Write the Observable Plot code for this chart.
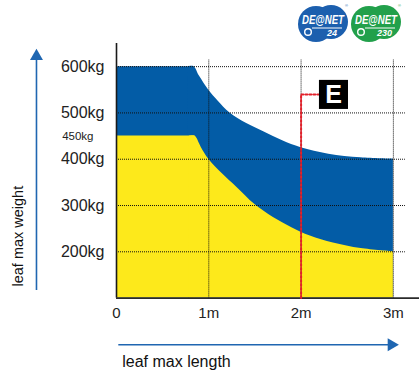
<!DOCTYPE html>
<html><head><meta charset="utf-8">
<script src="https://cdn.jsdelivr.net/npm/d3@7"></script>
<script src="https://cdn.jsdelivr.net/npm/@observablehq/plot@0.6"></script>
<style>
body{margin:0;background:#fff;}
#wrap{position:relative;width:419px;height:376px;overflow:hidden;font-family:"Liberation Sans",Arial,Helvetica,sans-serif;}
#logos{position:absolute;left:0;top:0;}
</style></head><body>
<div id="wrap"><div id="chart"></div>
<svg id="logos" width="419" height="46" viewBox="0 0 419 46" font-family="Liberation Sans, Arial, sans-serif">
  <g transform="translate(300,3)">
    <circle cx="16" cy="21" r="18" fill="#1c5fae"/>
    <circle cx="31" cy="19" r="17" fill="#1c5fae"/>
    <text x="2" y="21" font-size="13" font-weight="bold" font-style="italic" fill="#fff" textLength="42" lengthAdjust="spacingAndGlyphs">DE@NET</text>
    <path d="M12 25 L42 25" stroke="#fff" stroke-width="1"/>
    <circle cx="8" cy="29" r="3.3" fill="none" stroke="#fff" stroke-width="1.4"/>
    <text x="27" y="33" font-size="9" font-weight="bold" font-style="italic" fill="#fff">24</text>
    <text x="45" y="4" font-size="4" fill="#1c5fae">®</text>
  </g>
  <g transform="translate(353,3)">
    <circle cx="16" cy="21" r="18" fill="#22a04b"/>
    <circle cx="31" cy="19" r="17" fill="#22a04b"/>
    <text x="2" y="21" font-size="13" font-weight="bold" font-style="italic" fill="#fff" textLength="42" lengthAdjust="spacingAndGlyphs">DE@NET</text>
    <path d="M12 25 L42 25" stroke="#fff" stroke-width="1"/>
    <circle cx="8" cy="29" r="3.3" fill="none" stroke="#fff" stroke-width="1.4"/>
    <text x="24" y="33" font-size="9" font-weight="bold" font-style="italic" fill="#fff">230</text>
    <text x="45" y="4" font-size="4" fill="#22a04b">®</text>
  </g>
</svg>
</div>
<script>
// ---- data ----
const lengthTicks = [0, 1, 2, 3];
const lengthTickLabels = ["0", "1m", "2m", "3m"];
const weightTicks = [200, 300, 400, 500, 600];
const weightTickLabels = ["200kg", "300kg", "400kg", "500kg", "600kg"];
const extraWeightTick = [{w: 450, label: "450kg"}];

// upper limit (blue) : leaf length (m) -> max weight (kg)
const blueKnee = 0.84;
const blueLength = [0, 0.78, 0.84, 0.9, 1.0, 1.1, 1.23, 1.4, 1.6, 1.8, 2.0, 2.3, 2.65, 3.0];
const blueWeight = [600, 600, 600, 579, 549, 526, 500, 478, 459, 440, 425, 411, 403, 400];
// lower limit (yellow)
const yellowKnee = 0.85;
const yellowLength = [0, 0.79, 0.85, 0.92, 1.0, 1.15, 1.3, 1.5, 1.7, 1.9, 2.1, 2.35, 2.65, 3.0];
const yellowWeight = [450, 450, 450, 425, 400, 368, 340, 302, 274, 252, 234, 219, 207, 200];

// example marker "E"
const markerPathLength = [2, 2, 2.19];
const markerPathWeight = [100, 540, 540];
const markerLabel = [{len: 2.351, w: 540, label: "E"}];

const axisTitles = {x: "leaf max length", y: "leaf max weight"};

// ---- build ----
const blue = blueLength.map((x, i) => ({x, y: blueWeight[i]}));
const yellow = yellowLength.map((x, i) => ({x, y: yellowWeight[i]}));
const markerPath = markerPathLength.map((x, i) => ({x, y: markerPathWeight[i]}));

const BLUE = "#035ca6", YELLOW = "#fde91b", ARROW = "#1f66b1", RED = "#e3202a";
const grid = {stroke: "#111", strokeWidth: 1, strokeDasharray: "1,1"};

// flat part (linear) up to the knee, curved part (smooth) from the last flat reading on
function limitArea(pts, knee, color) {
  const ki = pts.findIndex(d => d.x >= knee);
  return [
    Plot.areaY(pts.slice(0, ki + 1), {x: "x", y1: 100, y2: "y", fill: color}),
    Plot.areaY(pts.slice(ki - 1), {x: "x", y1: 100, y2: "y", fill: color, curve: "catmull-rom"})
  ];
}

const chart = Plot.plot({
  width: 419, height: 376,
  marginLeft: 116, marginRight: 0, marginTop: 43, marginBottom: 78.4,
  style: {fontFamily: "Liberation Sans, Arial, Helvetica, sans-serif", fontSize: "15px", color: "#222", background: "#fff", overflow: "visible"},
  x: {domain: [0, 3.283], label: null},
  y: {domain: [100, 650], label: null},
  marks: [
    ...limitArea(blue, blueKnee, BLUE),
    ...limitArea(yellow, yellowKnee, YELLOW),
    Plot.ruleY(weightTicks, {x1: 0, x2: 3.13, ...grid}),
    Plot.ruleX(lengthTicks.slice(1), {y1: 100, y2: 615, ...grid}),
    Plot.ruleX([0], {y1: 100, y2: 650, stroke: "#1a1a1a", strokeWidth: 1.6}),
    Plot.ruleY([100], {x1: 0, x2: 3.283, stroke: "#2a2a2a", strokeWidth: 1.6}),
    Plot.line(markerPath, {x: "x", y: "y", stroke: RED, strokeWidth: 2, strokeDasharray: "2,2"}),
    Plot.dot(markerLabel, {x: "len", y: "w", symbol: "square", r: 16.4, fill: "#000"}),
    Plot.text(markerLabel, {x: "len", y: "w", text: "label", fill: "#fff", fontSize: 25, fontWeight: "bold", dy: 1}),
    Plot.axisX({ticks: lengthTicks, tickFormat: d => lengthTickLabels[lengthTicks.indexOf(d)], tickSize: 0, tickPadding: 9, fontSize: 15}),
    Plot.axisY({ticks: weightTicks, tickFormat: d => weightTickLabels[weightTicks.indexOf(d)], tickSize: 0, tickPadding: 12, fontSize: 16}),
    Plot.text(extraWeightTick, {y: "w", text: "label", frameAnchor: "left", dx: -23, textAnchor: "end", fontSize: 11.5, fill: "#222"}),
    // axis arrows
    Plot.ruleX([-0.867], {y1: 116.4, y2: 615, stroke: ARROW, strokeWidth: 1.6}),
    Plot.dot([0], {x: -0.867, y: 622.4, symbol: "triangle", r: 4.8, fill: ARROW}),
    Plot.ruleY([-0.9], {x1: 0.025, x2: 2.96, stroke: ARROW, strokeWidth: 1.6}),
    Plot.dot([0], {x: 2.979, y: -0.9, symbol: "triangle", r: 4.8, fill: ARROW, rotate: 90}),
    Plot.text([axisTitles.y], {x: -1.062, y: 125, rotate: -90, textAnchor: "start", fontSize: 14.5, fill: "#111"}),
    Plot.text([axisTitles.x], {x: 0.062, y: -37, textAnchor: "start", fontSize: 16, fill: "#111"})
  ]
});
document.getElementById("chart").appendChild(chart);
</script>
</body></html>
